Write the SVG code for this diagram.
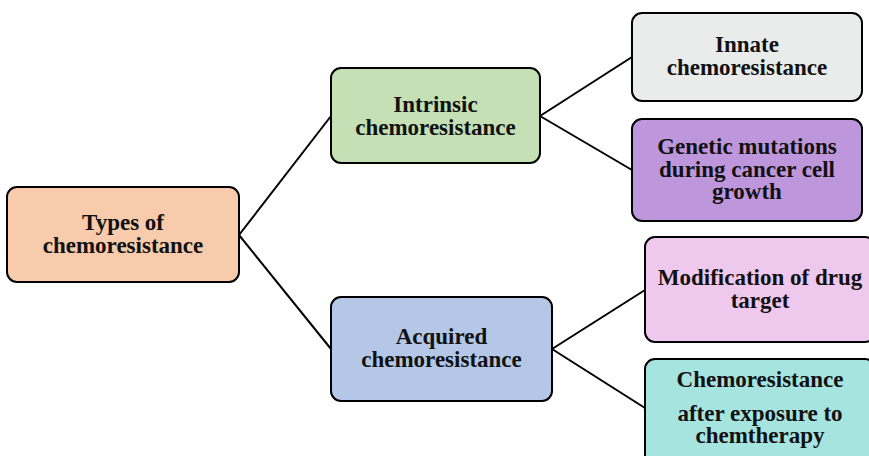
<svg xmlns="http://www.w3.org/2000/svg" width="869" height="456" viewBox="0 0 869 456">
<style>
.box{stroke:#000;stroke-width:2}
.t{font-family:"Liberation Serif","Times New Roman",serif;font-weight:bold;font-size:23px;fill:#111;text-anchor:middle}
.c{stroke:#000;stroke-width:2;fill:none}
</style>
<rect width="869" height="456" fill="#fff"/>
<g id="connectors">
<line class="c" x1="239" y1="235" x2="331" y2="116"/>
<line class="c" x1="239" y1="235" x2="331" y2="349"/>
<line class="c" x1="540" y1="116" x2="632" y2="57"/>
<line class="c" x1="540" y1="116" x2="632" y2="170"/>
<line class="c" x1="552" y1="349" x2="645" y2="290"/>
<line class="c" x1="552" y1="349" x2="645" y2="408"/>
</g>
<g id="root">
<rect class="box" x="7" y="187" width="232" height="95" rx="10" fill="#F7CBAC"/>
<text class="t" x="123" y="230">Types of</text>
<text class="t" x="123" y="253">chemoresistance</text>
</g>
<g id="intrinsic">
<rect class="box" x="331" y="68" width="209" height="95" rx="10" fill="#C5E0B4"/>
<text class="t" x="435.5" y="112">Intrinsic</text>
<text class="t" x="435.5" y="135">chemoresistance</text>
</g>
<g id="acquired">
<rect class="box" x="331" y="297" width="221" height="104" rx="10" fill="#B4C7E7"/>
<text class="t" x="441.5" y="344">Acquired</text>
<text class="t" x="441.5" y="367">chemoresistance</text>
</g>
<g id="innate">
<rect class="box" x="632" y="13" width="230" height="88" rx="10" fill="#EAECEB"/>
<text class="t" x="747" y="52">Innate</text>
<text class="t" x="747" y="75">chemoresistance</text>
</g>
<g id="genetic">
<rect class="box" x="632" y="119" width="230" height="102" rx="10" fill="#BE96DC"/>
<text class="t" x="747" y="154">Genetic mutations</text>
<text class="t" x="747" y="177">during cancer cell</text>
<text class="t" x="747" y="199">growth</text>
</g>
<g id="modification">
<rect class="box" x="645" y="237" width="230" height="105" rx="10" fill="#EFC8EE"/>
<text class="t" x="760" y="285">Modification of drug</text>
<text class="t" x="760" y="308">target</text>
</g>
<g id="chemo">
<rect class="box" x="645" y="359" width="230" height="110" rx="10" fill="#A6E4E0"/>
<text class="t" x="760" y="387">Chemoresistance</text>
<text class="t" x="760" y="421">after exposure to</text>
<text class="t" x="760" y="443">chemtherapy</text>
</g>
</svg>
